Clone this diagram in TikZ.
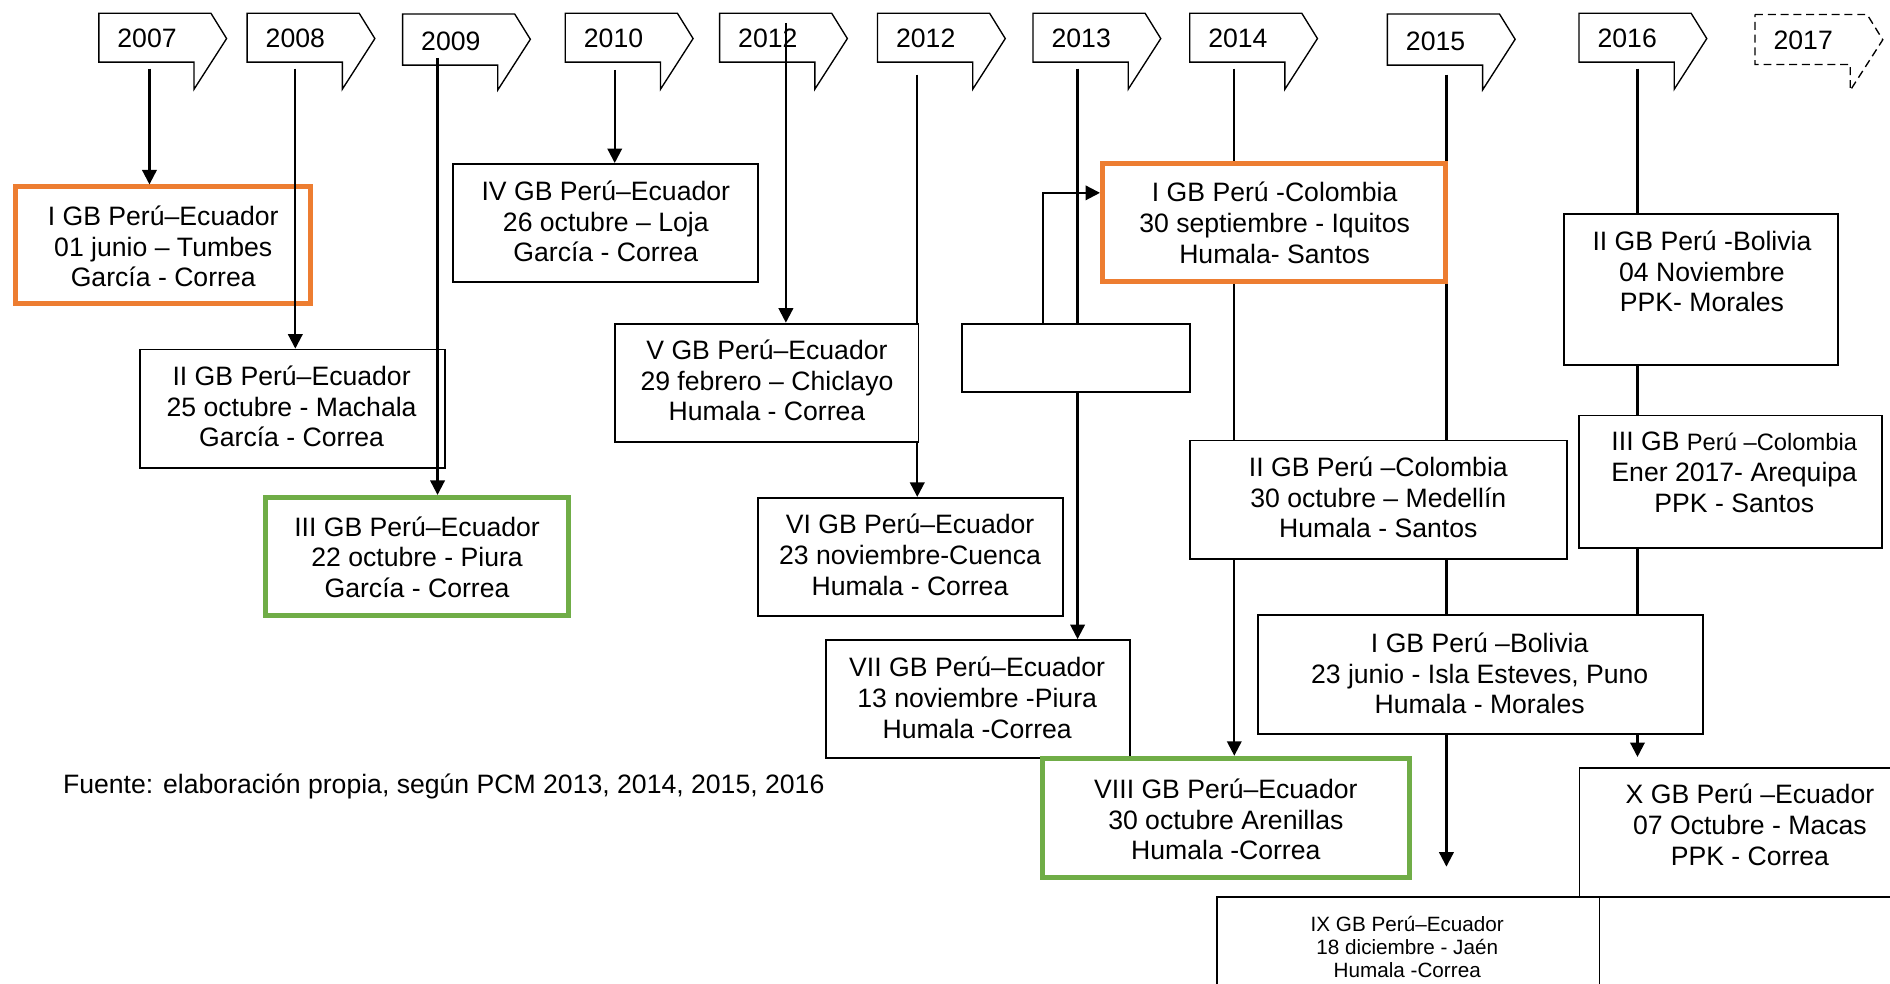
\documentclass[tikz,border=0pt]{standalone}
\usepackage{fontspec}
\setmainfont{Liberation Sans}
\usetikzlibrary{arrows.meta,fit}
\definecolor{orng}{HTML}{ED7D31}
\definecolor{grn}{HTML}{70AD47}
\newcommand\threeln[3]{\strut#1\\#2\\#3\strut}
\newcommand\yeartab[6]{%
  \begin{scope}[shift={(#2,#3)}]
    \draw[yrshape,#6] (0,0) -- (93,0) -- (106,21) -- (79,63) -- (79,#4) -- (0,#4) -- cycle;
    \node[yrlabel] (#1) at (40,#4-12.5) {#5};
  \end{scope}}
\begin{document}
\begin{tikzpicture}[x=0.025cm,y=-0.025cm,
  yrshape/.style={draw=black,line width=0.8pt,fill=white,line join=miter},
  yrlabel/.style={font=\fontsize{15.7}{18.1}\selectfont,anchor=base,inner sep=0pt},
  boxs/.style={draw=black,line width=1.1pt,fill=white,inner sep=0pt},
  orbox/.style={boxs,draw=orng,line width=3pt},
  grbox/.style={boxs,draw=grn,line width=3pt},
  txt/.style={font=\fontsize{15.7}{18.1}\selectfont,align=center,inner sep=0pt},
  smalltxt/.style={font=\fontsize{12.2}{13.7}\selectfont,align=center,inner sep=0pt},
  srctxt/.style={font=\fontsize{15.7}{18.1}\selectfont,inner sep=0pt,anchor=base west},
  conn/.style={draw=black,line width=1.3pt},
  arr/.style={conn,-{Triangle[length=0.3cm,width=0.3cm]}}]
\useasboundingbox (0,0) rectangle (1568,816);
\clip (0,0) rectangle (1568,816);
\fill[white] (0,0) rectangle (1568,816);

% year tabs
\yeartab{y07}{82}{11}{40.5}{2007}{}
\yeartab{y08}{205}{11}{40.5}{2008}{}
\yeartab{y09}{334}{11.6}{42.4}{2009}{}
\yeartab{y10}{469}{11}{40.5}{2010}{}
\yeartab{y12a}{597}{11}{40.5}{2012}{}
\yeartab{y12b}{728}{11}{40.5}{2012}{}
\yeartab{y13}{857}{11}{40.5}{2013}{}
\yeartab{y14}{987}{11}{40.5}{2014}{}
\yeartab{y15}{1151}{11.6}{42.4}{2015}{}
\yeartab{y16}{1310}{11}{40.5}{2016}{}
\yeartab{y17}{1456}{12}{41.5}{2017}{dash pattern=on 0.165cm off 0.1cm}

% boxes
\node[orbox,fit={(12.7,155.1) (257.4,251.9)}] (bI) {};
\node[boxs,fit={(116,290) (369,388)}] (bII) {};
\node[grbox,fit={(220.1,412.7) (471.9,510.9)}] (bIII) {};
\node[boxs,fit={(375.5,136) (628.5,234)}] (bIV) {};
\node[boxs,fit={(510,268.5) (762,366.5)}] (bV) {};
\node[boxs,fit={(629,413) (882,511)}] (bVI) {};
\node[boxs,fit={(685,531) (937.5,629)}] (bVII) {};
\node[boxs,fit={(798,268.5) (987,325.5)}] (bE) {};
\node[orbox,fit={(914.7,135.9) (1199.4,233.5)}] (bICol) {};
\node[boxs,fit={(987,365.5) (1300,464)}] (bIICol) {};
\node[boxs,fit={(1044,510.5) (1412.5,608.7)}] (bIBol) {};
\node[boxs,fit={(1297.6,177.7) (1525,303)}] (bIIBol) {};
\node[boxs,fit={(1310,344.7) (1561,454.6)}] (bIIICol) {};
\node[grbox,fit={(864.9,629.1) (1169.3,727.9)}] (bVIII) {};
\node[boxs,fit={(1310.4,637) (1600,744)}] (bX) {};
\node[boxs,fit={(1010,744) (1327,850)}] (bIX) {};
\node[boxs,fit={(1327,744) (1600,850)}] (bIXr) {};

% connector start / free ends
\coordinate (s07) at (124,57);
\coordinate (s08) at (245,57);
\coordinate (s09) at (363,48);
\coordinate (s10) at (510,58);
\coordinate (s12a) at (652,19);
\coordinate (s12b) at (761,62);
\coordinate (s13) at (894,57);
\coordinate (s14) at (1024,57);
\coordinate (s15) at (1200,62);
\coordinate (s16) at (1358.5,57);
\coordinate (lp) at (865,160);
\coordinate (e15) at (1200,719);
\coordinate (e16) at (1358.5,628);

% connectors
\draw[arr] (s07) -- (s07 |- bI.north);
\draw[arr] (s08) -- (s08 |- bII.north);
\draw[arr] (s09) -- (s09 |- bIII.north);
\draw[arr] (s10) -- (s10 |- bIV.north);
\draw[arr] (s12a) -- (s12a |- bV.north);
\draw[conn] (s12b) -- (s12b |- bV.north);
\draw[arr] (s12b |- bV.south) -- (s12b |- bVI.north);
\draw[conn] (s13) -- (s13 |- bE.north);
\draw[arr] (s13 |- bE.south) -- (s13 |- bVII.north);
\draw[arr] (lp |- bE.north) -- (lp) -- (lp -| bICol.west);
\draw[conn] (s14) -- (s14 |- bICol.north);
\draw[conn] (s14 |- bICol.south) -- (s14 |- bIICol.north);
\draw[arr] (s14 |- bIICol.south) -- (s14 |- bVIII.north);
\draw[conn] (s15) -- (s15 |- bICol.north);
\draw[conn] (s15 |- bICol.south) -- (s15 |- bIICol.north);
\draw[conn] (s15 |- bIICol.south) -- (s15 |- bIBol.north);
\draw[arr] (s15 |- bIBol.south) -- (e15);
\draw[conn] (s16) -- (s16 |- bIIBol.north);
\draw[conn] (s16 |- bIIBol.south) -- (s16 |- bIIICol.north);
\draw[conn] (s16 |- bIIICol.south) -- (s16 |- bIBol.north);
\draw[arr] (s16 |- bIBol.south) -- (e16);

% texts
\node[txt] (tI) at (135.4,207.4) {\threeln{I GB Perú–Ecuador}{01 junio – Tumbes}{García - Correa}};
\node[txt] (tII) at (241.9,340.2) {\threeln{II GB Perú–Ecuador}{25 octubre - Machala}{García - Correa}};
\node[txt] (tIII) at (346,465.2) {\threeln{III GB Perú–Ecuador}{22 octubre - Piura}{García - Correa}};
\node[txt] (tIV) at (502.6,186.7) {\threeln{IV GB Perú–Ecuador}{26 octubre – Loja}{García - Correa}};
\node[txt] (tV) at (636.3,318.7) {\threeln{V GB Perú–Ecuador}{29 febrero – Chiclayo}{Humala - Correa}};
\node[txt] (tVI) at (755,463.3) {\threeln{VI GB Perú–Ecuador}{23 noviembre-Cuenca}{Humala - Correa}};
\node[txt] (tVII) at (810.7,581.8) {\threeln{VII GB Perú–Ecuador}{13 noviembre -Piura}{Humala -Correa}};
\node[txt] (tICol) at (1057.5,187.8) {\threeln{I GB Perú -Colombia}{30 septiembre - Iquitos}{Humala- Santos}};
\node[txt] (tIICol) at (1143.5,415.7) {\threeln{II GB Perú –Colombia}{30 octubre – Medellín}{Humala - Santos}};
\node[txt] (tIBol) at (1227.6,561.6) {\threeln{I GB Perú –Bolivia}{23 junio - Isla Esteves, Puno}{Humala - Morales}};
\node[txt] (tIIBol) at (1412,228.1) {\threeln{II GB Perú -Bolivia}{04 Noviembre}{PPK- Morales}};
\node[txt] (tIIICol) at (1438.8,394.4) {\threeln{III GB {\fontsize{14}{18.1}\selectfont Perú –Colombia}}{Ener 2017- Arequipa}{PPK - Santos}};
\node[txt] (tVIII) at (1017,682.8) {\threeln{VIII GB Perú–Ecuador}{30 octubre Arenillas}{Humala -Correa}};
\node[txt] (tX) at (1451.8,687.2) {\threeln{X GB Perú –Ecuador}{07 Octubre - Macas}{PPK - Correa}};
\node[smalltxt] (tIX) at (1167.5,787.8) {\threeln{IX GB Perú–Ecuador}{18 diciembre - Jaén}{Humala -Correa}};
\node[srctxt] (src) at (52,658) {Fuente: elaboración propia, según PCM 2013, 2014, 2015, 2016};
\end{tikzpicture}
\end{document}
